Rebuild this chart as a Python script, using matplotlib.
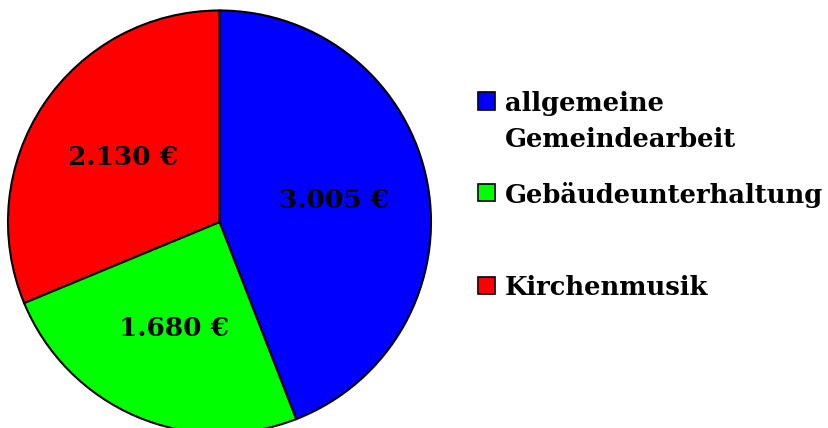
import matplotlib.pyplot as plt
from matplotlib.patches import Rectangle

# Spendenverteilung
categories = ["allgemeine\nGemeindearbeit", "Gebäudeunterhaltung", "Kirchenmusik"]
values = [3005, 1680, 2130]
value_labels = ["3.005 €", "1.680 €", "2.130 €"]
colors = ["#0000ff", "#00ff00", "#ff0000"]

FONT = "DejaVu Serif"


def main():
    fig = plt.figure(figsize=(8.29, 4.28), dpi=100, facecolor="white")

    # Kreis: Mittelpunkt ca. (219, 222) px, Radius ca. 212 px
    ax = fig.add_axes([8 / 829, -5.5 / 428, 423 / 829, 423 / 428])
    wedges, texts = ax.pie(
        values,
        colors=colors,
        startangle=90,
        counterclock=False,
        wedgeprops=dict(edgecolor="black", linewidth=1.5),
        labels=value_labels,
        labeldistance=0.55,
        textprops=dict(fontsize=19, fontweight="bold", family=FONT),
    )
    for t in texts:
        t.set_ha("center")
        t.set_va("center")
    ax.set_xlim(-1.0, 1.0)
    ax.set_ylim(-1.0, 1.0)
    ax.set_aspect("equal")
    ax.axis("off")

    # Legende manuell, Marker an der ersten Textzeile ausgerichtet
    marker_y = [101, 193, 285]  # px von oben
    for cat, col, y in zip(categories, colors, marker_y):
        fy = 1 - y / 428
        fig.patches.append(Rectangle((478 / 829, fy - 8.5 / 428), 17 / 829, 17 / 428,
                                     transform=fig.transFigure, facecolor=col,
                                     edgecolor="black", linewidth=1.2))
        for i, line in enumerate(cat.split("\n")):
            baseline = y + 10 + i * 36
            fig.text(505 / 829, 1 - baseline / 428, line, fontsize=18.5,
                     fontweight="bold", family=FONT, ha="left", va="baseline")

    fig.savefig("out.png", dpi=100, facecolor="white")
    plt.close(fig)


if __name__ == "__main__":
    main()
